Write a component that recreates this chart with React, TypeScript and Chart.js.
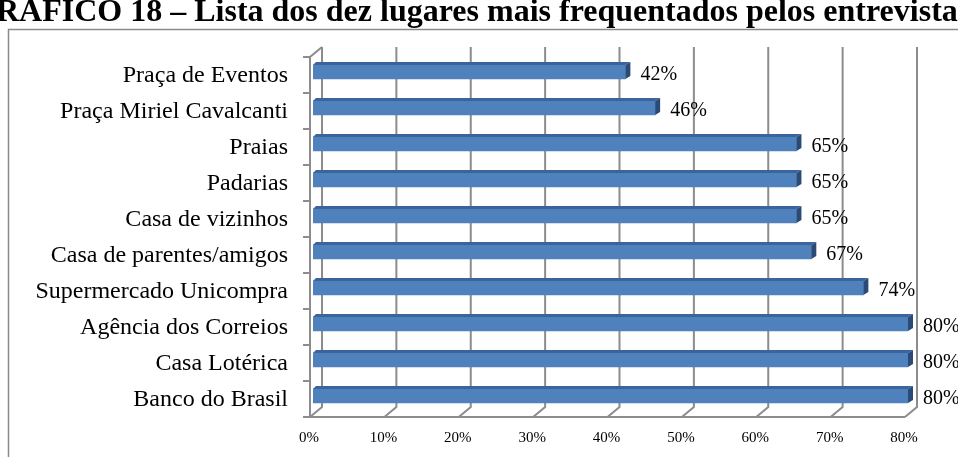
import React, { useEffect, useRef } from "react";
import { Chart, registerables } from "chart.js";

Chart.register(...registerables);

const TITLE = "GRÁFICO 18 – Lista dos dez lugares mais frequentados pelos entrevistados";

const categories = [
  "Praça de Eventos",
  "Praça Miriel Cavalcanti",
  "Praias",
  "Padarias",
  "Casa de vizinhos",
  "Casa de parentes/amigos",
  "Supermercado Unicompra",
  "Agência dos Correios",
  "Casa Lotérica",
  "Banco do Brasil",
];

const values = [42, 46, 65, 65, 65, 67, 74, 80, 80, 80];

const xTickValues = [0, 10, 20, 30, 40, 50, 60, 70, 80];

const W = 958;
const H = 457;
const FONT = '"Liberation Serif", "Times New Roman", serif';

// pseudo-3D geometry (pixels)
const SLOT_SHIFT = 3; // category slots sit below bar centers
const FRONT_DX = -3; // front floor edge relative to bar scale
const BACK_DX = 9; // back wall relative to bar scale
const DEPTH_DY = -10; // floor depth (vertical)
const BAR_DX = 5;
const BAR_DY = -3;
const GRID_COLOR = "#8c8c8c";

const threeD = {
  id: "threeD",
  beforeDraw(chart: any) {
    const ctx = chart.ctx;
    ctx.save();
    ctx.fillStyle = "#ffffff";
    ctx.fillRect(0, 0, W, H);
    // outer frame
    ctx.strokeStyle = "#8a8a8a";
    ctx.lineWidth = 1.5;
    ctx.strokeRect(8.5, 29.5, 1200, 1200);
    // title
    ctx.fillStyle = "#000";
    ctx.font = `bold 32px ${FONT}`;
    ctx.textBaseline = "alphabetic";
    const g = ctx.measureText("G").width;
    ctx.fillText(TITLE, -4 - g, 21);
    ctx.restore();
  },
  beforeDatasetsDraw(chart: any) {
    const ctx = chart.ctx;
    const xs = chart.scales.x;
    const ys = chart.scales.y;
    const slotTop = ys.top + SLOT_SHIFT;
    const slotBottom = ys.bottom + SLOT_SHIFT;
    const n = categories.length;
    const slot = (ys.bottom - ys.top) / n;
    ctx.save();
    ctx.strokeStyle = GRID_COLOR;
    ctx.lineWidth = 2;
    ctx.lineCap = "butt";
    // back wall gridlines + floor diagonals
    xTickValues.forEach((v) => {
      const p = xs.getPixelForValue(v);
      const bx = p + BACK_DX;
      const fx = p + FRONT_DX;
      ctx.beginPath();
      ctx.moveTo(bx, slotTop + DEPTH_DY);
      ctx.lineTo(bx, slotBottom + DEPTH_DY);
      ctx.lineTo(fx, slotBottom);
      ctx.stroke();
    });
    const f0 = xs.getPixelForValue(0) + FRONT_DX;
    const fEnd = xs.getPixelForValue(xTickValues[xTickValues.length - 1]) + FRONT_DX;
    const b0 = xs.getPixelForValue(0) + BACK_DX;
    // front floor edge
    ctx.beginPath();
    ctx.moveTo(f0, slotBottom);
    ctx.lineTo(fEnd, slotBottom);
    ctx.stroke();
    // left wall front edge and top
    ctx.beginPath();
    ctx.moveTo(f0, slotBottom);
    ctx.lineTo(f0, slotTop);
    ctx.lineTo(b0, slotTop + DEPTH_DY);
    ctx.stroke();
    // category tick marks
    for (let k = 0; k <= n; k++) {
      const y = slotTop + k * slot;
      ctx.beginPath();
      ctx.moveTo(f0 - 7, y);
      ctx.lineTo(f0, y);
      ctx.stroke();
    }
    ctx.restore();
  },
  afterDatasetsDraw(chart: any) {
    const ctx = chart.ctx;
    const meta = chart.getDatasetMeta(0);
    ctx.save();
    meta.data.forEach((el: any, i: number) => {
      const { x, y, base, height } = el.getProps(["x", "y", "base", "height"], true);
      const top = y - height / 2;
      const bottom = y + height / 2;
      // top face
      ctx.fillStyle = "#3b659a";
      ctx.beginPath();
      ctx.moveTo(base, top);
      ctx.lineTo(x, top);
      ctx.lineTo(x + BAR_DX, top + BAR_DY);
      ctx.lineTo(base + BAR_DX - 2, top + BAR_DY);
      ctx.closePath();
      ctx.fill();
      // end face
      ctx.fillStyle = "#2a4b78";
      ctx.beginPath();
      ctx.moveTo(x, top);
      ctx.lineTo(x + BAR_DX, top + BAR_DY);
      ctx.lineTo(x + BAR_DX, bottom + BAR_DY);
      ctx.lineTo(x, bottom);
      ctx.closePath();
      ctx.fill();
      // value label
      ctx.fillStyle = "#000";
      ctx.font = `20px ${FONT}`;
      ctx.textBaseline = "middle";
      ctx.textAlign = "left";
      ctx.fillText(values[i] + "%", x + 15, y + SLOT_SHIFT);
    });
    ctx.restore();
  },
};

export default function App() {
  const ref = useRef<HTMLCanvasElement | null>(null);
  useEffect(() => {
    if (!ref.current) return;
    const chart = new Chart(ref.current, {
      type: "bar",
      data: {
        labels: categories,
        datasets: [
          {
            data: values,
            backgroundColor: "#4f81bd",
            borderWidth: 0,
            barThickness: 14,
          },
        ],
      },
      options: {
        indexAxis: "y",
        responsive: false,
        animation: false,
        devicePixelRatio: 1,
        layout: { padding: { top: 54, right: 50, bottom: 0, left: 0 } },
        plugins: {
          legend: { display: false },
          title: { display: false },
          tooltip: { enabled: false },
        },
        scales: {
          x: {
            type: "linear",
            min: 0,
            max: 80,
            grid: { display: false, drawTicks: false },
            border: { display: false },
            ticks: {
              stepSize: 10,
              padding: 15,
              labelOffset: -4,
              color: "#000",
              font: { family: FONT, size: 15 },
              callback: (v: any) => v + "%",
            },
            afterFit: (s: any) => {
              s.height = 43;
            },
          },
          y: {
            type: "category",
            grid: { display: false, drawTicks: false },
            border: { display: false },
            ticks: {
              padding: 25,
              labelOffset: SLOT_SHIFT + 1,
              color: "#000",
              font: { family: FONT, size: 24 },
            },
            afterFit: (s: any) => {
              s.width = 313;
            },
          },
        },
      },
      plugins: [threeD],
    });
    return () => chart.destroy();
  }, []);
  return (
    <div style={{ position: "fixed", left: 0, top: 0, width: W, height: H, background: "#fff" }}>
      <canvas ref={ref} width={W} height={H} style={{ width: W, height: H, display: "block" }} />
    </div>
  );
}
